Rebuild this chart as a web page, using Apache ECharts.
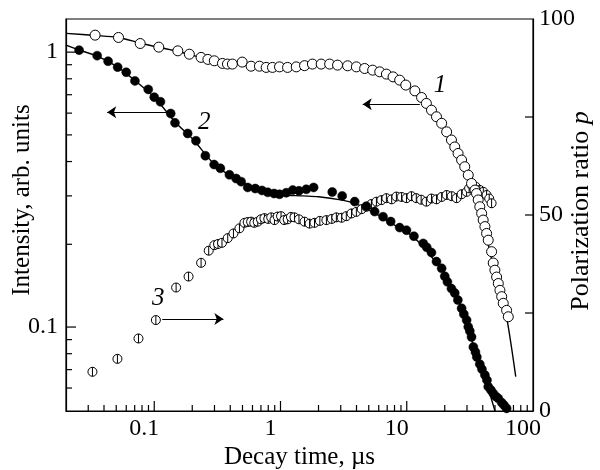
<!DOCTYPE html>
<html><head><meta charset="utf-8">
<script src="https://cdn.jsdelivr.net/npm/echarts@6/dist/echarts.min.js"></script>
<style>html,body{margin:0;padding:0;background:#fff}#c{width:600px;height:470px}</style>
</head><body><div id="c"></div>
<script>
// ---------------- data ----------------
// Curve 1 (open circles, left axis): decay time (µs), intensity
const s1X = [0.034,0.0521,0.0774,0.1086,0.1537,0.1897,0.235,0.266,0.299,0.347,0.380,0.416,0.497,0.585,0.681,0.770,0.864,0.982,1.137,1.333,1.55,1.79,2.10,2.45,2.83,3.40,3.99,4.64,5.37,6.11,6.90,7.79,8.79,9.82,11.6,13.1,14.3,15.7,17.2,18.9,20.7,22.6,24.0,25.5,27.2,28.8,30.7,32.6,34.7,35.7,36.8,37.9,39.2,40.3,41.6,42.9,44.2,47.0,48.4,49.9,51.5,53.1,54.7,56.5,58.1,61.8,63.7];
const s1Y = [1.153,1.131,1.075,1.043,1.011,0.983,0.957,0.941,0.930,0.910,0.905,0.905,0.920,0.889,0.889,0.880,0.880,0.884,0.880,0.884,0.893,0.905,0.905,0.905,0.897,0.892,0.884,0.872,0.860,0.848,0.832,0.813,0.791,0.759,0.723,0.684,0.651,0.615,0.582,0.551,0.513,0.479,0.452,0.428,0.405,0.383,0.357,0.333,0.315,0.306,0.290,0.274,0.259,0.245,0.232,0.219,0.207,0.188,0.171,0.161,0.152,0.144,0.136,0.129,0.122,0.115,0.109];
// Curve 2 (filled circles, left axis)
const s2X = [0.0254,0.0353,0.0431,0.0513,0.060,0.0703,0.0896,0.100,0.112,0.135,0.146,0.184,0.214,0.254,0.298,0.334,0.394,0.445,0.488,0.550,0.631,0.713,0.793,0.890,0.982,1.11,1.25,1.40,1.60,1.83,2.57,3.08,3.87,4.79,5.57,6.49,7.46,8.79,9.95,11.4,13.5,14.4,15.7,17.2,18.9,20.0,21.0,22.6,24.0,25.4,27.2,28.3,29.8,30.7,31.6,32.6,33.7,35.0,35.9,37.9,39.4,41.6,43.2,44.2,46.4,48.4,50.8,53.1,56.5,58.9,61.8];
const s2Y = [1.017,0.971,0.927,0.882,0.845,0.786,0.732,0.686,0.660,0.598,0.553,0.506,0.476,0.420,0.390,0.378,0.358,0.347,0.338,0.322,0.319,0.314,0.309,0.306,0.304,0.308,0.315,0.313,0.317,0.322,0.310,0.300,0.286,0.275,0.263,0.252,0.242,0.230,0.225,0.214,0.2015,0.195,0.1866,0.173,0.1635,0.153,0.146,0.138,0.133,0.1254,0.117,0.1115,0.106,0.1002,0.0967,0.092,0.0846,0.0811,0.0778,0.0733,0.0703,0.0669,0.0641,0.0607,0.059,0.0574,0.0559,0.0550,0.0531,0.052,0.0506];
// Curve 3 (crossed circles, right axis): polarization ratio p
const s3X = [0.0324,0.0511,0.075,0.103,0.149,0.187,0.235,0.270,0.299,0.32,0.344,0.382,0.424,0.473,0.518,0.55,0.585,0.62,0.660,0.70,0.746,0.80,0.844,0.896,0.95,1.01,1.07,1.14,1.21,1.29,1.4,1.55,1.7,1.86,2.05,2.31,2.55,2.77,3.05,3.32,3.65,3.99,4.4,4.79,5.25,5.75,6.3,6.90,7.6,8.28,9.1,9.95,10.9,11.9,13.0,14.3,15.7,17.2,18.9,20.7,22.7,24.8,27.2,29.8,31.2,32.6,35.2,37.9,40.4,42.9,45,47.0];
const s3P = [10.0,13.3,18.5,23.2,31.5,34.3,37.8,40.9,42.3,42.6,42.9,44.1,45.3,46.6,48.0,48.2,48.3,48.0,48.3,48.9,49.2,49.0,49.4,48.7,49.6,49.7,48.7,48.9,49.5,49.4,48.9,48.3,47.8,48.0,48.5,48.7,49.0,49.4,49.3,49.7,50.4,50.8,51.5,52.1,52.8,53.4,53.8,54.3,54.0,54.7,54.6,54.3,54.8,54.3,53.9,53.4,54.2,54.0,54.6,55.1,54.8,54.3,55.3,55.9,56.8,57.7,57.2,56.4,55.9,55.1,54.2,53.0];
// Fitted curves (solid lines)
const fit1X = [0.02,0.034,0.052,0.077,0.11,0.15,0.2,0.3,0.5,1,2,3,5,8,12,17,22,28,35,42,50,60,73];
const fit1Y = [1.17,1.15,1.13,1.08,1.04,1.01,0.975,0.93,0.9,0.885,0.9,0.9,0.865,0.8,0.71,0.59,0.49,0.39,0.31,0.22,0.158,0.117,0.066];
const fit2X = [0.02,0.025,0.035,0.05,0.07,0.1,0.15,0.2,0.3,0.4,0.5,0.7,1,1.5,2,3,4,6,8,10,13,17,20,25,30,35,40,45,50];
const fit2Y = [1.06,1.02,0.97,0.89,0.79,0.685,0.55,0.485,0.39,0.355,0.335,0.315,0.303,0.3,0.298,0.29,0.28,0.255,0.235,0.222,0.2,0.172,0.155,0.127,0.104,0.08,0.068,0.058,0.0495];
// Axis ranges, ticks, labels
const xRange = [0.02, 100];
const yRange = [0.0495, 1.32];
const pRange = [0, 100];
const xMajor = [0.1,1,10];
const xMinor = [0.03,0.04,0.05,0.06,0.07,0.08,0.09,0.2,0.3,0.4,0.5,0.6,0.7,0.8,0.9,2,3,4,5,6,7,8,9,20,30,40,50,60,70,80,90];
const yMajor = [0.1,1];
const yMinor = [0.06,0.07,0.08,0.09,0.2,0.3,0.4,0.5,0.6,0.7,0.8,0.9];
const pTicks = [25,50,75];
const pLabels = [0,50,100];
// Annotations: curve labels and arrows
const lab1 = [18.3,0.759], lab2 = [0.249,0.556], lab3 = [0.1076,28.8];
const arr1 = [[12.7,0.647],[4.48,0.647]];
const arr2 = [[0.1315,0.605],[0.0424,0.605]];
const arr3 = [[0.1157,23.5],[0.353,23.5]];

// ---------------- chart ----------------
const FONT = '"Liberation Serif","Times New Roman",serif';
const zip = (a,b) => a.map((v,i)=>[v,b[i]]);
function decFmt(v){ const l=Math.log10(v), r=Math.round(l); if(Math.abs(l-r)>1e-6) return ''; return r<0 ? v.toFixed(-r) : String(Math.round(v)); }
const black = '#000';
const lbl = (fs)=>({fontFamily:FONT,fontSize:fs,color:black});
function arrowLine(a){ return {silent:true,symbol:['none','arrow'],symbolSize:9,label:{show:false},lineStyle:{color:black,width:1,type:'solid'},data:[[{coord:a[0]},{coord:a[1]}]]}; }
function tag(c,t){ return {silent:true,symbol:'circle',symbolSize:1,itemStyle:{color:'rgba(0,0,0,0)'},data:[{coord:c,label:{show:true,position:'inside',formatter:t,fontFamily:FONT,fontSize:25,fontStyle:'italic',color:black}}]}; }
// tick marks, placed through the axes' own scales (api.coord)
function tickSeries(values, dir, len, yAxisIndex){
  const data = values.map(v => dir==='x' ? [v, yRange[0]] : dir==='y' ? [xRange[0], v] : [xRange[1], v]);
  return {type:'custom', coordinateSystem:'cartesian2d', yAxisIndex:yAxisIndex||0, data, encode:{x:0,y:1}, clip:false, silent:true, z:20,
    renderItem:(params, api)=>{
      const p = api.coord([api.value(0), api.value(1)]);
      const sh = dir==='x' ? {x1:p[0],y1:p[1],x2:p[0],y2:p[1]-len}
               : dir==='y' ? {x1:p[0],y1:p[1],x2:p[0]+len,y2:p[1]}
               : {x1:p[0],y1:p[1],x2:p[0]-len,y2:p[1]};
      return {type:'line', shape:sh, style:{stroke:black, lineWidth:1.2}};
    }};
}

const chart = echarts.init(document.getElementById('c'), null, {renderer:'canvas'});
chart.setOption({
  animation:false,
  backgroundColor:'#fff',
  grid:{left:66,right:67,top:19,bottom:59,outerBoundsMode:'none',containLabel:false,show:true,borderColor:black,borderWidth:1.2,backgroundColor:'transparent'},
  xAxis:{type:'log',min:xRange[0],max:xRange[1],position:'bottom',
     axisLine:{lineStyle:{color:black,width:1.2}},
     axisTick:{show:false},
     axisLabel:{formatter:decFmt,margin:6,padding:[0,20,0,0],...lbl(24)},
     splitLine:{show:false},minorTick:{show:false},
     name:'Decay time, µs',nameLocation:'middle',nameGap:34,nameMoveOverlap:false,nameTextStyle:lbl(25)},
  yAxis:[
    {type:'log',min:yRange[0],max:yRange[1],position:'left',
     axisLine:{lineStyle:{color:black,width:1.2}},
     axisTick:{show:false},
     axisLabel:{formatter:decFmt,margin:8,...lbl(24)},
     splitLine:{show:false},
     name:'Intensity, arb. units',nameLocation:'middle',nameRotate:90,nameGap:31,nameMoveOverlap:false,
     nameTextStyle:{...lbl(25),padding:[0,0,0,30]}},
    {type:'value',min:pRange[0],max:pRange[1],interval:25,position:'right',
     axisLine:{lineStyle:{color:black,width:1.2}},
     axisTick:{show:false},
     axisLabel:{formatter:v=>pLabels.includes(v)?String(v):'',margin:6,...lbl(24)},
     splitLine:{show:false},
     name:'{a|Polarization ratio }{b|p}',nameLocation:'middle',nameRotate:90,nameGap:35,nameMoveOverlap:false,
     nameTextStyle:{...lbl(26),padding:[0,0,0,8],rich:{a:lbl(26),b:{...lbl(26),fontStyle:'italic'}}}}
  ],
  series:[
    tickSeries(xMajor,'x',10),
    tickSeries(xMinor,'x',6),
    tickSeries(yMajor,'y',10),
    tickSeries(yMinor,'y',6),
    tickSeries(pTicks,'p',8,1),
    {type:'line',data:zip(fit1X,fit1Y),showSymbol:false,smooth:0.3,lineStyle:{color:black,width:1.4},z:2,silent:true},
    {type:'line',data:zip(fit2X,fit2Y),showSymbol:false,smooth:0.3,lineStyle:{color:black,width:1.4},z:2,silent:true},
    {type:'scatter',yAxisIndex:1,data:zip(s3X,s3P),symbol:'path://M10,0A10,10,0,1,1,10,20A10,10,0,1,1,10,0ZM10,0L10,20',symbolSize:9,
     itemStyle:{color:'#fff',borderColor:black,borderWidth:1,opacity:1},z:3,markLine:arrowLine(arr3),markPoint:tag(lab3,'3')},
    {type:'scatter',data:zip(s1X,s1Y),symbol:'circle',symbolSize:10,
     itemStyle:{color:'#fff',borderColor:black,borderWidth:1,opacity:1},z:4,markLine:arrowLine(arr1),markPoint:tag(lab1,'1')},
    {type:'scatter',data:zip(s2X,s2Y),symbol:'circle',symbolSize:9,
     itemStyle:{color:black,borderColor:black,borderWidth:0.5,opacity:1},z:5,markLine:arrowLine(arr2),markPoint:tag(lab2,'2')}
  ]
});
</script></body></html>
